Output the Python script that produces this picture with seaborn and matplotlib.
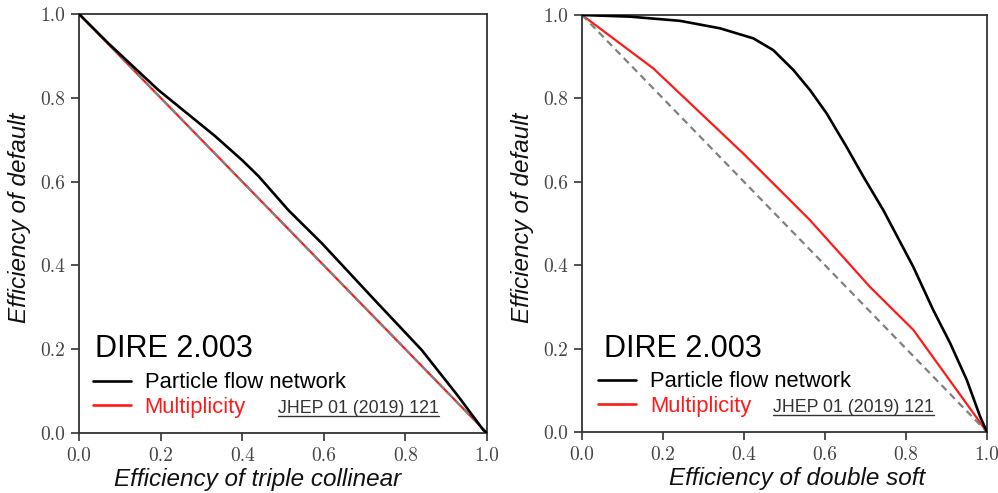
import matplotlib
matplotlib.use("Agg")
import matplotlib.pyplot as plt
import seaborn as sns

# ---- data ----
diag_x = [0.0, 1.0]
diag_y = [1.0, 0.0]

tc_pfn_x = [0.0, 0.072, 0.194, 0.333, 0.400, 0.440, 0.513, 0.595, 0.725, 0.840, 0.930, 0.991, 1.0]
tc_pfn_y = [1.0, 0.930, 0.819, 0.709, 0.651, 0.613, 0.532, 0.453, 0.317, 0.198, 0.087, 0.007, 0.0]
tc_mult_x = [0.0, 0.5, 1.0]
tc_mult_y = [1.0, 0.5, 0.0]

ds_pfn_x = [0.0, 0.119, 0.242, 0.341, 0.423, 0.472, 0.522, 0.563, 0.604, 0.653, 0.695,
            0.744, 0.818, 0.867, 0.909, 0.950, 0.983, 1.0]
ds_pfn_y = [1.0, 0.996, 0.986, 0.968, 0.944, 0.916, 0.868, 0.820, 0.764, 0.684, 0.612,
            0.532, 0.396, 0.293, 0.213, 0.125, 0.037, 0.0]
ds_mult_x = [0.0, 0.176, 0.398, 0.563, 0.711, 0.818, 1.0]
ds_mult_y = [1.0, 0.872, 0.668, 0.508, 0.348, 0.245, 0.0]

ticks = [0.0, 0.2, 0.4, 0.6, 0.8, 1.0]
tick_labels = ["0.0", "0.2", "0.4", "0.6", "0.8", "1.0"]

xlabels = ["Efficiency of triple collinear", "Efficiency of double soft"]
ylabel = "Efficiency of default"
series_names = ["Particle flow network", "Multiplicity"]
title_text = "DIRE 2.003"
ref_text = "JHEP 01 (2019) 121"

sns.set_style("ticks")
plt.rcParams["font.family"] = ["Liberation Sans", "DejaVu Sans"]
plt.rcParams["axes.formatter.use_mathtext"] = True

fig = plt.figure(figsize=(9.98, 4.93), dpi=100)
ax1 = fig.add_axes([79/998, 60/493, 408/998, 419/493])
ax2 = fig.add_axes([582/998, 61/493, 405/998, 417/493])

panels = [
    (ax1, tc_pfn_x, tc_pfn_y, tc_mult_x, tc_mult_y, xlabels[0], 0.439, 0.039, -0.004, 0.488),
    (ax2, ds_pfn_x, ds_pfn_y, ds_mult_x, ds_mult_y, xlabels[1], 0.531, 0.054, 0.001, 0.472),
]

for ax, px, py, mx, my, xl, xlx, tx, lx, rx in panels:
    sns.lineplot(x=px, y=py, ax=ax, color="black", linewidth=1.9, label=series_names[0],
                 sort=False, zorder=3)
    sns.lineplot(x=mx, y=my, ax=ax, color="#ff1a1a", linewidth=1.6, label=series_names[1],
                 sort=False, zorder=2)
    ax.plot(diag_x, diag_y, color="#808080", linestyle=(0, (3.2, 2.2)), linewidth=1.6, zorder=2.5)

    ax.set_xlim(0, 1)
    ax.set_ylim(0, 1)
    ax.set_xticks(ticks)
    ax.set_yticks(ticks)
    ax.set_xticklabels(tick_labels, fontfamily="cmr10", fontsize=14, color="#444444")
    ax.set_yticklabels(tick_labels, fontfamily="cmr10", fontsize=14, color="#444444")
    ax.tick_params(direction="out", length=6, width=1.2, color="#333333", pad=4)
    for s in ax.spines.values():
        s.set_visible(True)
        s.set_color("#333333")
        s.set_linewidth(1.3)

    ax.set_xlabel(xl, fontsize=17.5, style="italic", color="#111111")
    ax.set_ylabel(ylabel, fontsize=17.5, style="italic", color="#111111")
    ax.xaxis.set_label_coords(xlx, -0.083)
    ax.yaxis.set_label_coords(-0.118, 0.513)

    ax.text(tx, 0.181, title_text, transform=ax.transAxes, fontsize=22, color="black",
            ha="left", va="baseline")
    leg = ax.legend(loc="lower left", bbox_to_anchor=(lx, 0.0), frameon=False,
                    fontsize=15.8, handlelength=1.73, handletextpad=0.64, labelspacing=0.15,
                    borderaxespad=0.3)
    leg.get_texts()[0].set_color("black")
    leg.get_texts()[1].set_color("#ff1a1a")
    for h in leg.legend_handles:
        h.set_linewidth(1.9)
    t = ax.text(rx, 0.047, ref_text, transform=ax.transAxes, fontsize=12.8, color="#333333",
                ha="left", va="baseline")
    fig.canvas.draw()
    bb = t.get_window_extent()
    inv = ax.transAxes.inverted()
    (x0, y0), (x1, y1) = inv.transform([[bb.x0, bb.y0], [bb.x1, bb.y1]])
    ax.plot([x0, x1], [y0 + 0.003, y0 + 0.003], transform=ax.transAxes, color="#333333",
            linewidth=1.0, clip_on=False)

fig.savefig("out.png", dpi=100)
